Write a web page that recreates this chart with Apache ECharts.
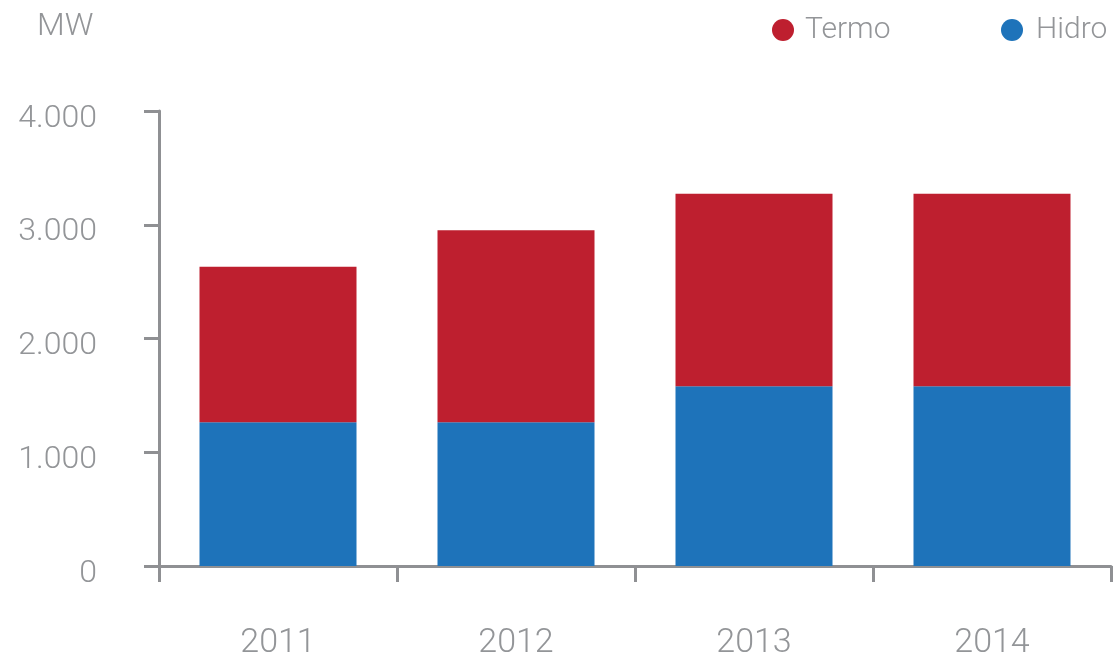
<!DOCTYPE html>
<html>
<head>
<meta charset="utf-8">
<script src="https://cdn.jsdelivr.net/npm/echarts@6/dist/echarts.min.js"></script>
<style>
  html, body { margin: 0; padding: 0; background: #fff; }
  #chart { width: 1117px; height: 660px; }
</style>
</head>
<body>
<div id="chart"></div>
<script>
// valores (MW)
const years = ['2011', '2012', '2013', '2014']
const hidro = [1264, 1264, 1581, 1581]
const termo = [1367, 1688, 1691, 1691]
const yTicks = [0, 1000, 2000, 3000, 4000]

const gray = '#939598'
const axisGray = '#8f9093'
const font = 'Roboto'

const chart = echarts.init(document.getElementById('chart'))

chart.setOption({
  backgroundColor: '#fff',
  animation: false,
  textStyle: { fontFamily: font },
  title: {
    text: 'MW',
    left: 37,
    top: 11,
    padding: 0,
    textStyle: { color: gray, fontSize: 32, fontWeight: 300, fontFamily: font }
  },
  legend: [
    {
      data: ['Termo'],
      left: 772,
      top: 15,
      padding: 0,
      icon: 'circle',
      itemWidth: 22,
      itemHeight: 22,
      textStyle: { color: gray, fontSize: 30, fontWeight: 300, padding: [0, 0, 0, 6] }
    },
    {
      data: ['Hidro'],
      left: 1001,
      top: 15,
      padding: 0,
      icon: 'circle',
      itemWidth: 22,
      itemHeight: 22,
      textStyle: { color: gray, fontSize: 30, fontWeight: 300, padding: [3, 0, 0, 8] }
    }
  ],
  grid: { left: 159, right: 6, top: 111, bottom: 91, containLabel: false },
  xAxis: {
    type: 'category',
    data: years,
    axisLine: { lineStyle: { color: axisGray, width: 3 } },
    axisTick: { show: true, length: 16, lineStyle: { color: axisGray, width: 3 } },
    axisLabel: { color: gray, fontSize: 34, fontWeight: 300, margin: 60 }
  },
  yAxis: {
    type: 'value',
    min: yTicks[0],
    max: yTicks[yTicks.length - 1],
    interval: 1000,
    axisLine: { show: true, lineStyle: { color: axisGray, width: 3 } },
    axisTick: { show: true, length: 15, lineStyle: { color: axisGray, width: 3 } },
    splitLine: { show: false },
    axisLabel: {
      color: gray,
      fontSize: 32,
      fontWeight: 300,
      margin: 62,
      verticalAlign: 'top',
      lineHeight: 15,
      formatter: v => v === 0 ? '0' : v.toLocaleString('de-DE')
    }
  },
  series: [
    {
      name: 'Hidro',
      type: 'bar',
      stack: 'total',
      data: hidro,
      barWidth: 157,
      itemStyle: { color: '#1e73ba' }
    },
    {
      name: 'Termo',
      type: 'bar',
      stack: 'total',
      data: termo,
      barWidth: 157,
      itemStyle: { color: '#be1f2f' }
    }
  ]
})
</script>
</body>
</html>
